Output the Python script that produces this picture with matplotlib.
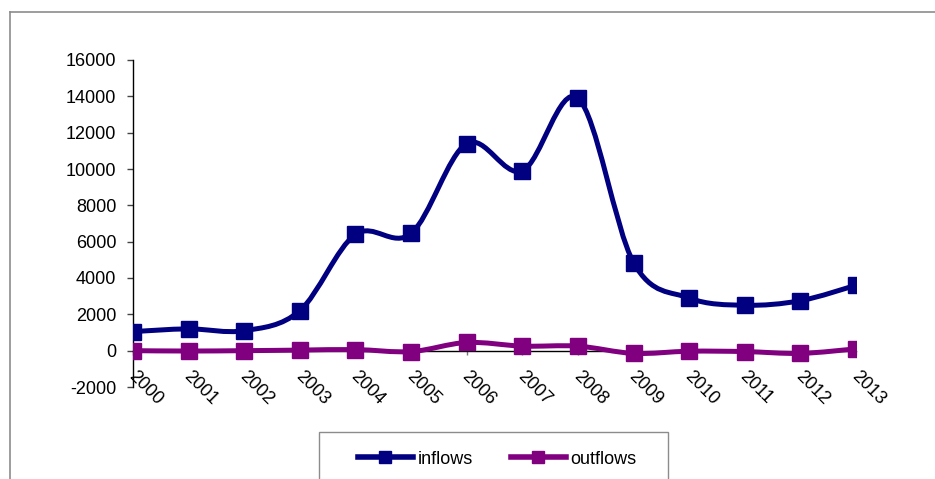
import numpy as np
import matplotlib.pyplot as plt
import matplotlib.transforms as mtransforms
from matplotlib.path import Path
from matplotlib.patches import PathPatch, Rectangle
from matplotlib.lines import Line2D

plt.rcParams['font.family'] = ['Liberation Sans', 'DejaVu Sans']

years = ['2000', '2001', '2002', '2003', '2004', '2005', '2006',
         '2007', '2008', '2009', '2010', '2011', '2012', '2013']
inflows = [1050, 1200, 1100, 2200, 6400, 6450, 11400,
           9900, 13900, 4850, 2900, 2500, 2750, 3600]
outflows = [0, -20, 0, 30, 60, -50, 450,
            250, 250, -150, -30, -50, -150, 100]
y_ticks = list(range(-2000, 16001, 2000))

navy = '#000080'
purple = '#800080'


def smooth_path(xs, ys):
    # Excel-style smoothed line: Bezier segments with Catmull-Rom control points
    pts = np.column_stack([xs, ys]).astype(float)
    n = len(pts)
    verts = [pts[0]]
    codes = [Path.MOVETO]
    for i in range(n - 1):
        p0 = pts[i - 1] if i > 0 else pts[i]
        p1 = pts[i]
        p2 = pts[i + 1]
        p3 = pts[i + 2] if i + 2 < n else pts[i + 1]
        c1 = p1 + (p2 - p0) / 6.0
        c2 = p2 - (p3 - p1) / 6.0
        verts += [c1, c2, p2]
        codes += [Path.CURVE4] * 3
    return Path(verts, codes)


fig = plt.figure(figsize=(9.35, 4.79), dpi=100)
W, H = 935, 479
ax = fig.add_axes([133 / W, 1 - 387 / H, (856 - 133) / W, (387 - 60) / H])

# spine position first: it resets the ticks
for s in ['top', 'right']:
    ax.spines[s].set_visible(False)
ax.spines['bottom'].set_position(('data', 0))
ax.spines['left'].set_linewidth(1.0)
ax.spines['bottom'].set_linewidth(1.0)

x = np.arange(len(years))
for vals, col in [(inflows, navy), (outflows, purple)]:
    ax.add_patch(PathPatch(smooth_path(x, vals), fill=False, edgecolor=col,
                           linewidth=3.6, capstyle='round', zorder=3))
    ax.plot(x, vals, linestyle='none', marker='s', markersize=12,
            color=col, zorder=4)

ax.set_xlim(0, len(years) - 1)
ax.set_ylim(-2000, 16000)
ax.set_yticks(y_ticks)
ax.set_yticklabels([str(v) for v in y_ticks])
ax.set_xticks(x)
ax.tick_params(axis='y', direction='out', length=4, width=1, pad=8,
               labelsize=13, color='#444444')
ax.tick_params(axis='x', direction='out', length=3, width=1, pad=9.5,
               labelsize=13, color='#777777')
ax.set_xticklabels(years, rotation=-45, ha='left', va='top',
                   rotation_mode='anchor')
shift = mtransforms.ScaledTranslation(4 / 100, 0, fig.dpi_scale_trans)
for lbl in ax.get_xticklabels():
    lbl.set_transform(lbl.get_transform() + shift)

# outer chart frame (cut off on the right and bottom)
fig.add_artist(Line2D([10 / W, 10 / W], [0, 1 - 12 / H], color='#8c8c8c',
                      linewidth=1.2, transform=fig.transFigure))
fig.add_artist(Line2D([10 / W, 1], [1 - 12 / H, 1 - 12 / H], color='#8c8c8c',
                      linewidth=1.2, transform=fig.transFigure))

# legend box
fig.add_artist(Rectangle((319 / W, -0.05), (668 - 319) / W, 0.05 + 1 - 432 / H,
                         transform=fig.transFigure, fill=False,
                         edgecolor='#8c8c8c', linewidth=1.0))
handles = [Line2D([], [], color=navy, linewidth=4, marker='s', markersize=9),
           Line2D([], [], color=purple, linewidth=4, marker='s', markersize=9)]
fig.legend(handles, ['inflows', 'outflows'], loc='center',
           bbox_to_anchor=(497 / W, 1 - 459 / H), ncol=2, frameon=False,
           fontsize=13, handlelength=3.05, handletextpad=0.25,
           columnspacing=2.1)

fig.savefig('out.png', dpi=100)
